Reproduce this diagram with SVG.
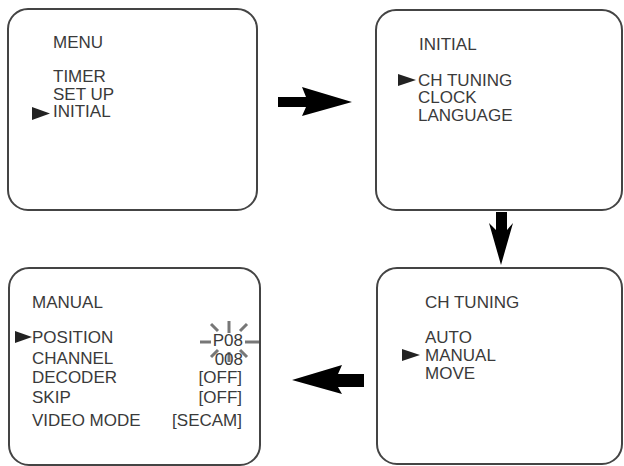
<svg xmlns="http://www.w3.org/2000/svg" width="624" height="466" viewBox="0 0 624 466">
<style>
.box{fill:#fff;stroke:#444;stroke-width:2}
text{font-family:"Liberation Sans",Arial,sans-serif;font-size:17px;fill:#3a3a3a}
.r{text-anchor:end}
.tri{fill:#222}
.arr{fill:#000}
.spk{stroke:#777;stroke-width:3;stroke-linecap:butt}
</style>
<rect width="624" height="466" fill="#fff"/>
<g id="menu">
<rect class="box" x="8" y="9" width="249" height="201" rx="20"/>
<text x="53" y="48">MENU</text>
<text x="53" y="82">TIMER</text>
<text x="53" y="99.5">SET UP</text>
<text x="53" y="117">INITIAL</text>
<polygon class="tri" points="32,107 50,113.5 32,120"/>
</g>
<g id="initial">
<rect class="box" x="376" y="10" width="246" height="200" rx="20"/>
<text x="419" y="50">INITIAL</text>
<text x="418" y="85.5">CH TUNING</text>
<text x="418" y="103">CLOCK</text>
<text x="418" y="120.5">LANGUAGE</text>
<polygon class="tri" points="398,74 416,80 398,86"/>
</g>
<g id="chtuning">
<rect class="box" x="377" y="268" width="245" height="196" rx="20"/>
<text x="425" y="308">CH TUNING</text>
<text x="425" y="343">AUTO</text>
<text x="425" y="361">MANUAL</text>
<text x="425" y="379">MOVE</text>
<polygon class="tri" points="402,349 420,355 402,361"/>
</g>
<g id="manual">
<rect class="box" x="9" y="268" width="251" height="197" rx="20"/>
<text x="32" y="308">MANUAL</text>
<text x="32" y="343">POSITION</text>
<text x="32" y="364">CHANNEL</text>
<text x="32" y="383">DECODER</text>
<text x="32" y="403">SKIP</text>
<text x="32" y="426">VIDEO MODE</text>
<polygon class="tri" points="15,331 32,337 15,343"/>
<g class="spk">
<line x1="200" y1="342" x2="211" y2="342"/>
<line x1="245" y1="342" x2="259" y2="342"/>
<line x1="229" y1="321" x2="229" y2="333"/>
<line x1="229" y1="352" x2="229" y2="362"/>
<line x1="211" y1="324" x2="218" y2="331"/>
<line x1="247" y1="324" x2="240" y2="331"/>
<line x1="211" y1="357" x2="218" y2="350"/>
<line x1="247" y1="357" x2="240" y2="350"/>
</g>
<text class="r" x="243" y="346">P08</text>
<text class="r" x="243" y="365">008</text>
<text class="r" x="242" y="383">[OFF]</text>
<text class="r" x="242" y="403">[OFF]</text>
<text class="r" x="242" y="426">[SECAM]</text>
</g>
<g id="connectors">
<polygon class="arr" points="278,97 306,97 302,87 352,102 302,116 306,107 278,107"/>
<polygon class="arr" points="496,212 507,212 507,230 513,223 501,265 489,223 496,230"/>
<polygon class="arr" points="364,374 338,374 342,365 292,380 342,394 338,387 364,387"/>
</g>
</svg>
